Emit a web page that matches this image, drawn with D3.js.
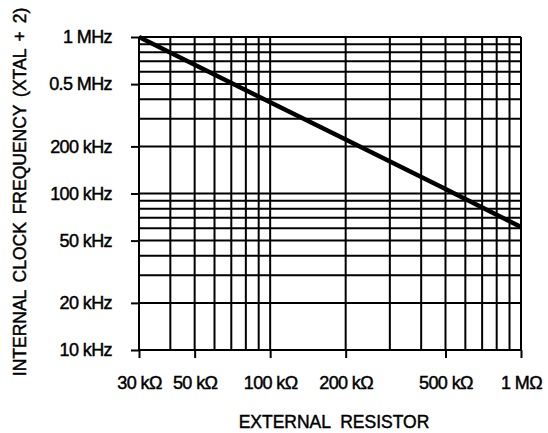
<!DOCTYPE html>
<html>
<head>
<meta charset="utf-8">
<script src="https://cdn.jsdelivr.net/npm/d3@7"></script>
<style>
  body { margin: 0; background: #fff; }
  svg { display: block; font-family: "Liberation Sans", Arial, sans-serif; }
  .tick text { font-size: 18px; letter-spacing: -0.6px; fill: #000; stroke: #000; stroke-width: 0.45px; }
  .title { font-size: 17.5px; fill: #000; stroke: #000; stroke-width: 0.45px; }
</style>
</head>
<body>
<svg width="548" height="433"></svg>
<script>
// values
const resistorK = [30, 50, 100, 200, 500, 1000];
const clockKHz = [1000, 665, 383, 221, 107, 61];

const xTickValues = [30, 50, 100, 200, 500, 1000];
const xTickLabels = ['30 kΩ', '50 kΩ', '100 kΩ', '200 kΩ', '500 kΩ', '1 MΩ'];
const yTickValues = [1000, 500, 200, 100, 50, 20, 10];
const yTickLabels = ['1 MHz', '0.5 MHz', '200 kHz', '100 kHz', '50 kHz', '20 kHz', '10 kHz'];

const xGrid = [30, 40, 50, 60, 70, 80, 90, 100, 200, 300, 400, 500, 600, 700, 800, 900, 1000];
const yGrid = [10, 20, 30, 40, 50, 60, 70, 80, 90, 100, 200, 300, 400, 500, 600, 700, 800, 900, 1000];

const svg = d3.select('svg');
const width = +svg.attr('width');
const height = +svg.attr('height');
const margin = { top: 37, right: 27, bottom: 83, left: 139 };
const innerWidth = width - margin.left - margin.right;
const innerHeight = height - margin.top - margin.bottom;

const xScale = d3.scaleLog()
    .domain([30, 1000])
    .range([0, innerWidth]);

const yScale = d3.scaleLog()
    .domain([10, 1000])
    .range([innerHeight, 0]);

const g = svg.append('g')
    .attr('transform', `translate(${margin.left},${margin.top})`);

// grid
g.selectAll('.vgrid').data(xGrid)
  .enter().append('line')
    .attr('class', 'vgrid')
    .attr('x1', d => xScale(d)).attr('x2', d => xScale(d))
    .attr('y1', 0).attr('y2', innerHeight)
    .attr('stroke', '#000')
    .attr('stroke-width', 2);

g.selectAll('.hgrid').data(yGrid)
  .enter().append('line')
    .attr('class', 'hgrid')
    .attr('x1', 0).attr('x2', innerWidth)
    .attr('y1', d => yScale(d)).attr('y2', d => yScale(d))
    .attr('stroke', '#000')
    .attr('stroke-width', 2);

// axes
const yAxis = g.append('g')
    .call(d3.axisLeft(yScale)
        .tickValues(yTickValues)
        .tickFormat((d, i) => yTickLabels[i])
        .tickSize(8)
        .tickPadding(19));
yAxis.select('.domain').remove();
yAxis.selectAll('.tick line').attr('stroke-width', 2);

const xAxis = g.append('g')
    .attr('transform', `translate(0,${innerHeight})`)
    .call(d3.axisBottom(xScale)
        .tickValues(xTickValues)
        .tickFormat((d, i) => xTickLabels[i])
        .tickSize(8)
        .tickPadding(18));
xAxis.select('.domain').remove();
xAxis.selectAll('.tick line').attr('stroke-width', 2);

svg.selectAll('.tick text').attr('font-size', null).attr('font-family', null);

// curve
const line = d3.line()
    .x((d, i) => xScale(resistorK[i]))
    .y(d => yScale(d));

g.append('path')
    .datum(clockKHz)
    .attr('d', line)
    .attr('fill', 'none')
    .attr('stroke', '#000')
    .attr('stroke-width', 4.5);

// titles
svg.append('text')
    .attr('class', 'title')
    .attr('x', 334)
    .attr('y', 428)
    .attr('text-anchor', 'middle')
    .style('word-spacing', '5px')
    .text('EXTERNAL RESISTOR');

svg.append('text')
    .attr('class', 'title')
    .attr('transform', 'translate(26,192) rotate(-90)')
    .attr('text-anchor', 'middle')
    .style('word-spacing', '3px')
    .text('INTERNAL CLOCK FREQUENCY (XTAL + 2)');
</script>
</body>
</html>
